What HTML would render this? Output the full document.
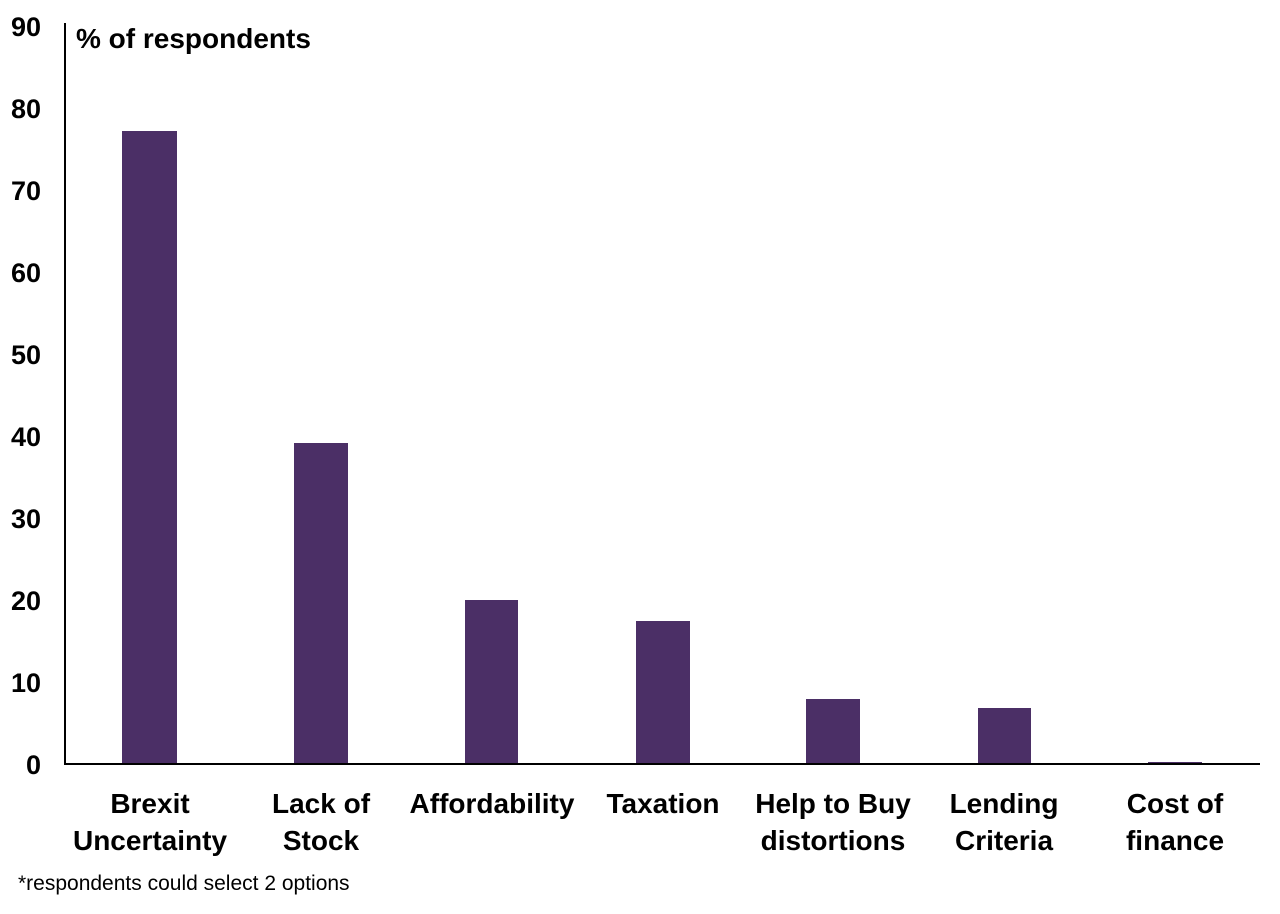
<!DOCTYPE html>
<html><head><style>body{margin:0;background:#fff}</style></head><body>
<svg width="1280" height="909" xmlns="http://www.w3.org/2000/svg" font-family="Liberation Sans, Arial, sans-serif">
<g font-size="27" font-weight="bold" text-anchor="end" fill="#000">
<text x="41" y="36">90</text><text x="41" y="118">80</text><text x="41" y="200">70</text><text x="41" y="282">60</text><text x="41" y="364">50</text><text x="41" y="446">40</text><text x="41" y="528">30</text><text x="41" y="610">20</text><text x="41" y="692">10</text><text x="41" y="774">0</text>
</g>
<text x="76" y="48" font-size="28" font-weight="bold">% of respondents</text>
<g fill="#4b2f66">
<rect x="122" y="131" width="55" height="633"/>
<rect x="294" y="443" width="54" height="321"/>
<rect x="465" y="600" width="53" height="164"/>
<rect x="636" y="621" width="54" height="143"/>
<rect x="806" y="699" width="54" height="65"/>
<rect x="978" y="708" width="53" height="56"/>
<rect x="1148" y="762" width="54" height="2"/>
</g>
<line x1="65" y1="23" x2="65" y2="765" stroke="#000" stroke-width="2"/>
<line x1="64" y1="764" x2="1260" y2="764" stroke="#000" stroke-width="2"/>
<g font-size="28" font-weight="bold" text-anchor="middle">
<text x="150" y="813">Brexit</text><text x="150" y="850">Uncertainty</text>
<text x="321" y="813">Lack of</text><text x="321" y="850">Stock</text>
<text x="492" y="813">Affordability</text>
<text x="663" y="813">Taxation</text>
<text x="833" y="813">Help to Buy</text><text x="833" y="850">distortions</text>
<text x="1004" y="813">Lending</text><text x="1004" y="850">Criteria</text>
<text x="1175" y="813">Cost of</text><text x="1175" y="850">finance</text>
</g>
<text x="18" y="890" font-size="21">*respondents could select 2 options</text>
</svg>
</body></html>
